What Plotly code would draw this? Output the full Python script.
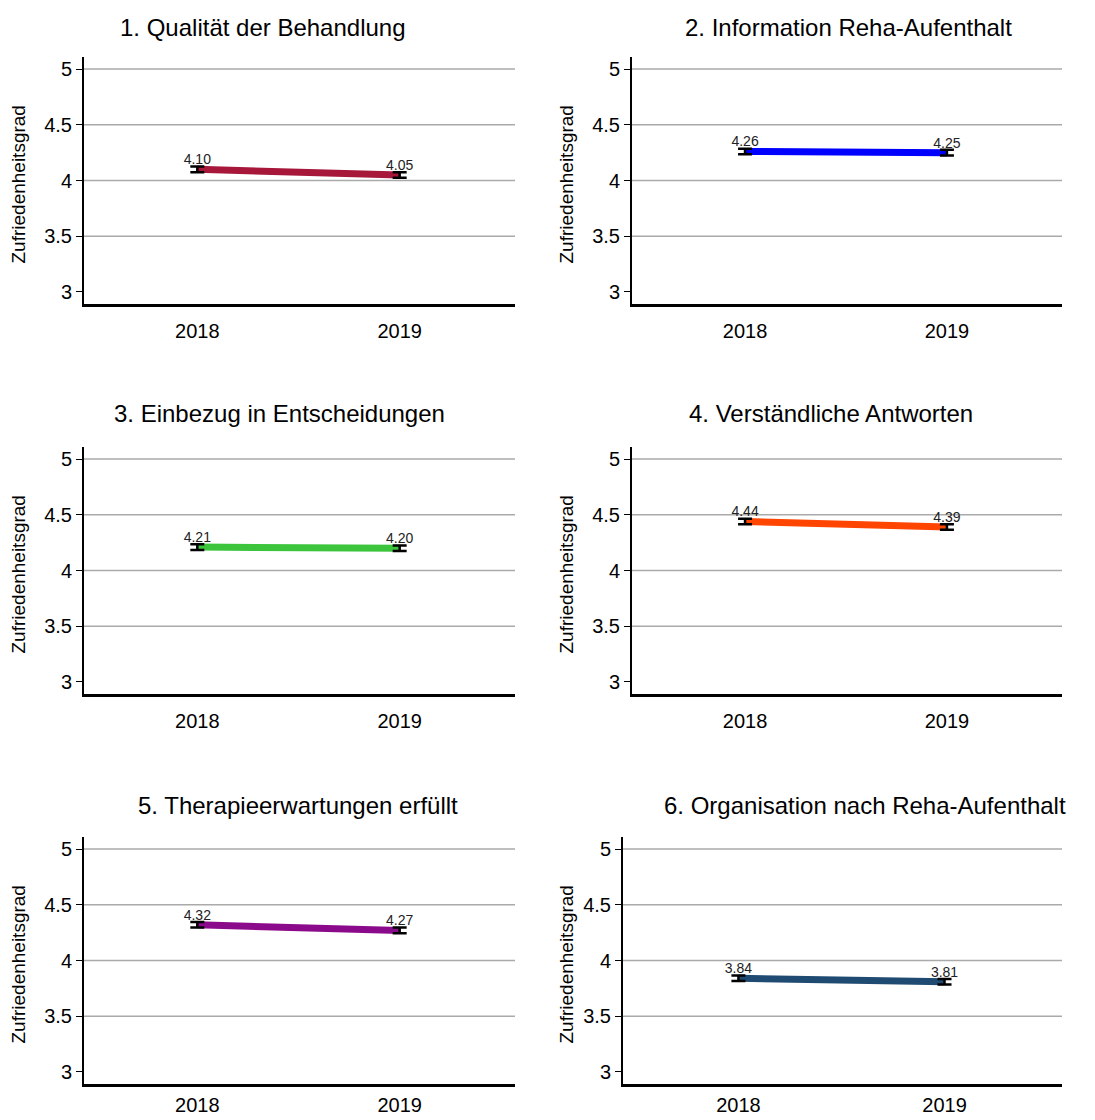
import plotly.graph_objects as go

# data
years = ["2018", "2019"]
titles = [
    "1. Qualität der Behandlung",
    "2. Information Reha-Aufenthalt",
    "3. Einbezug in Entscheidungen",
    "4. Verständliche Antworten",
    "5. Therapieerwartungen erfüllt",
    "6. Organisation nach Reha-Aufenthalt",
]
means = [
    [4.10, 4.05],
    [4.26, 4.25],
    [4.21, 4.20],
    [4.44, 4.39],
    [4.32, 4.27],
    [3.84, 3.81],
]
errors = [
    [0.025, 0.025],
    [0.025, 0.025],
    [0.025, 0.025],
    [0.025, 0.025],
    [0.025, 0.025],
    [0.025, 0.025],
]
y_ticks = [3, 3.5, 4, 4.5, 5]
y_tick_text = ["3", "3.5", "4", "4.5", "5"]
grid_levels = [3.5, 4, 4.5, 5]
y_label = "Zufriedenheitsgrad"

colors = ["#A6173A", "#0000FF", "#3CC43C", "#FF4500", "#8B0A8B", "#1F4A72"]

W, H = 1095, 1120


def px(x):
    return x / W


def py(y):
    return 1 - y / H


# panel boxes in page pixels
col_x = [(84, 515), (632, 1062)]
row_y = [(57, 304), (447, 694), (837, 1084)]
title_cx = [263, 848, 279, 831, 298, 865]
title_cy = [27, 413, 805]
ylab_cx = [18, 566]
xlabel_gap = [7, 7, 1]  # bottom row sits close to the page edge

fig = go.Figure()
font = "Liberation Sans, Arial, sans-serif"

for i in range(6):
    r, c = divmod(i, 2)
    left, right = col_x[c]
    if i == 5:
        left = 623
    top, bottom = row_y[r]
    n = i + 1
    xa = "x" if n == 1 else f"x{n}"
    ya = "y" if n == 1 else f"y{n}"

    fig.add_trace(go.Scatter(
        x=years, y=means[i], mode="lines",
        line=dict(color=colors[i], width=7),
        xaxis=xa, yaxis=ya, showlegend=False, hoverinfo="skip",
    ))
    fig.add_trace(go.Scatter(
        x=years, y=means[i], mode="markers+text",
        marker=dict(size=1, color="rgba(0,0,0,0)"),
        error_y=dict(type="data", array=errors[i], color="black",
                     thickness=2.5, width=7),
        text=[f"{v:.2f}" for v in means[i]],
        textposition="top center",
        textfont=dict(size=14, color="#222222", family=font),
        xaxis=xa, yaxis=ya, showlegend=False,
    ))

    fig.layout[f"xaxis{'' if n == 1 else n}"] = dict(
        domain=[px(left), px(right)], anchor=ya, type="category",
        range=[-0.56, 1.57], showgrid=False, zeroline=False,
        showline=True, linecolor="black", linewidth=3,
        ticks="outside", ticklen=xlabel_gap[r], tickcolor="rgba(0,0,0,0)",
        tickfont=dict(size=20, color="black", family=font),
        automargin=False, fixedrange=True,
    )
    fig.layout[f"yaxis{'' if n == 1 else n}"] = dict(
        domain=[py(bottom), py(top)], anchor=xa,
        range=[2.892, 5.108], tickvals=y_ticks, ticktext=y_tick_text,
        showgrid=False, zeroline=False,
        showline=True, linecolor="black", linewidth=2,
        ticks="outside", ticklen=6, tickcolor="black",
        tickfont=dict(size=20, color="black", family=font),
        automargin=False, fixedrange=True,
    )

    for g in grid_levels:
        fig.add_shape(type="line", xref=f"{xa} domain", yref=ya,
                      x0=0, x1=1, y0=g, y1=g,
                      line=dict(color="#AAAAAA", width=1.5), layer="below")

    fig.add_annotation(text=titles[i], x=px(title_cx[i]), y=py(title_cy[r]),
                       xref="paper", yref="paper", showarrow=False,
                       xanchor="center", yanchor="middle",
                       font=dict(size=24, color="black", family=font))
    fig.add_annotation(text=y_label, x=px(ylab_cx[c]), y=py((top + bottom) / 2 + 4),
                       xref="paper", yref="paper", showarrow=False, textangle=-90,
                       xanchor="center", yanchor="middle",
                       font=dict(size=19, color="black", family=font))

fig.update_layout(
    width=W, height=H,
    margin=dict(l=0, r=0, t=0, b=0),
    paper_bgcolor="white", plot_bgcolor="white",
    showlegend=False,
)

# drop the default page margin so the figure fills the window exactly
fig.write_html(
    "out.html",
    config={"displayModeBar": False},
    post_script="document.body.style.margin='0';document.body.style.overflow='hidden';",
)
